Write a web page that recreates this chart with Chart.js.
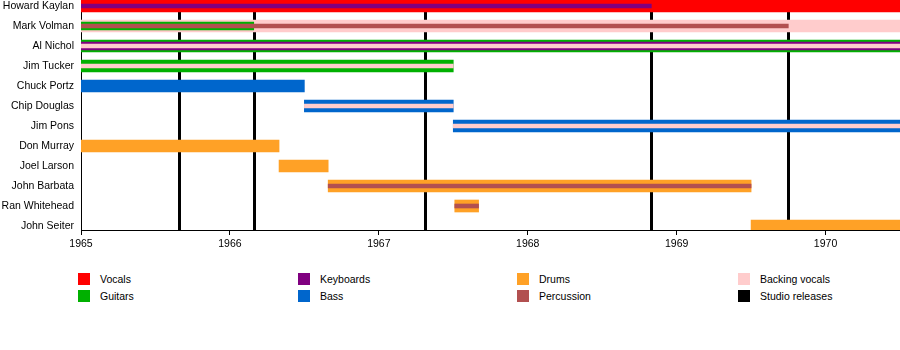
<!DOCTYPE html>
<html>
<head>
<meta charset="utf-8">
<title>The Turtles timeline</title>
<script src="https://cdn.jsdelivr.net/npm/chart.js@4/dist/chart.umd.min.js"></script>
<style>
  body { margin: 0; background: #fff; font-family: "Liberation Sans", Arial, sans-serif; }
  #wrap { position: relative; width: 900px; height: 350px; }
  #box { position: absolute; left: 0; top: 0; width: 900px; height: 255px; }
  .key { position: absolute; height: 12px; font-size: 10.5px; line-height: 12px; color: #000; white-space: nowrap; }
  .key span { position: absolute; left: 0; top: 0; width: 12px; height: 12px; }
  .key b { position: absolute; left: 22px; top: 0; font-weight: normal; }
</style>
</head>
<body>
<div id="wrap">
  <div id="box"><canvas id="timeline"></canvas></div>
  <div id="legend"></div>
</div>
<script>
const members = ['Howard Kaylan', 'Mark Volman', 'Al Nichol', 'Jim Tucker', 'Chuck Portz', 'Chip Douglas',
  'Jim Pons', 'Don Murray', 'Joel Larson', 'John Barbata', 'Ran Whitehead', 'John Seiter'];
const yearTicks = [1965, 1966, 1967, 1968, 1969, 1970];
const studioReleases = [1965.66, 1966.16, 1967.31, 1968.83, 1969.75];

// main role (full bar)
const vocals = [['Howard Kaylan', 1965, 1970.5]];
const backingVocals = [['Mark Volman', 1965, 1970.5]];
const guitars = [['Al Nichol', 1965, 1970.5], ['Jim Tucker', 1965, 1967.5]];
const bass = [['Chuck Portz', 1965, 1966.5], ['Chip Douglas', 1966.5, 1967.5], ['Jim Pons', 1967.5, 1970.5]];
const drums = [['Don Murray', 1965, 1966.33], ['Joel Larson', 1966.33, 1966.66], ['John Barbata', 1966.66, 1969.5],
  ['Ran Whitehead', 1967.51, 1967.67], ['John Seiter', 1969.5, 1970.5]];

// second role
const guitarsSecond = [['Mark Volman', 1965, 1966.16]];
const keyboardsSecond = [['Al Nichol', 1965, 1970.5]];

// third role
const keyboardsThird = [['Howard Kaylan', 1965, 1968.83]];
const percussionThird = [['Mark Volman', 1965, 1969.75], ['John Barbata', 1966.66, 1969.5], ['Ran Whitehead', 1967.51, 1967.67]];
const backingThird = [['Al Nichol', 1965, 1970.5], ['Jim Tucker', 1965, 1967.5], ['Chip Douglas', 1966.5, 1967.5],
  ['Jim Pons', 1967.5, 1970.5]];

const legendLabels = ['Vocals', 'Guitars', 'Keyboards', 'Bass', 'Drums', 'Percussion', 'Backing vocals', 'Studio releases'];

const colors = {
  vocals: '#ff0000',
  guitars: '#00b000',
  keyboards: '#800080',
  bass: '#0066cc',
  drums: '#ffa126',
  percussion: '#b25050',
  backing: '#ffcccc',
  releases: '#000000'
};
const legendColors = [colors.vocals, colors.guitars, colors.keyboards, colors.bass,
  colors.drums, colors.percussion, colors.backing, colors.releases];

const toPoints = list => list.map(([name, start, end]) => ({ x: [start, end], y: members.indexOf(name) }));

function layer(label, color, list, thickness, order) {
  return {
    label: label,
    data: toPoints(list),
    backgroundColor: color,
    barThickness: thickness,
    grouped: false,
    borderWidth: 0,
    order: order,
    clip: 0
  };
}

const releaseLines = {
  id: 'releaseLines',
  beforeDatasetsDraw(chart) {
    const { ctx, chartArea, scales } = chart;
    ctx.save();
    ctx.strokeStyle = colors.releases;
    ctx.lineWidth = 3;
    studioReleases.forEach(year => {
      const px = Math.round(scales.x.getPixelForValue(year)) + 0.5;
      ctx.beginPath();
      ctx.moveTo(px, chartArea.top);
      ctx.lineTo(px, chartArea.bottom);
      ctx.stroke();
    });
    ctx.restore();
  }
};

const font = { family: '"Liberation Sans", Arial, sans-serif', size: 10.5 };

new Chart(document.getElementById('timeline'), {
  type: 'bar',
  data: {
    datasets: [
      layer('Vocals', colors.vocals, vocals, 12, 3),
      layer('Backing vocals', colors.backing, backingVocals, 12, 3),
      layer('Guitars', colors.guitars, guitars, 12, 3),
      layer('Bass', colors.bass, bass, 12, 3),
      layer('Drums', colors.drums, drums, 12, 3),
      layer('Guitars', colors.guitars, guitarsSecond, 8, 2),
      layer('Keyboards', colors.keyboards, keyboardsSecond, 8, 2),
      layer('Keyboards', colors.keyboards, keyboardsThird, 4, 1),
      layer('Percussion', colors.percussion, percussionThird, 4, 1),
      layer('Backing vocals', colors.backing, backingThird, 4, 1)
    ]
  },
  options: {
    indexAxis: 'y',
    responsive: true,
    maintainAspectRatio: false,
    animation: false,
    layout: { padding: 0 },
    plugins: {
      legend: { display: false },
      tooltip: { enabled: false }
    },
    scales: {
      x: {
        type: 'linear',
        min: 1965,
        max: 1970.5,
        offset: false,
        afterBuildTicks: scale => { scale.ticks = yearTicks.map(v => ({ value: v })); },
        afterFit: scale => { scale.height = 25; scale.paddingLeft = 0; scale.paddingRight = 0; },
        ticks: { font: font, color: '#000', padding: 3, maxRotation: 0, autoSkip: false, callback: v => String(v) },
        grid: { display: true, drawOnChartArea: false, drawTicks: true, tickLength: 5, color: '#000', offset: false },
        border: { display: true, color: '#000', width: 1 }
      },
      y: {
        type: 'linear',
        reverse: true,
        offset: false,
        min: -0.3,
        max: 11.2,
        afterBuildTicks: scale => { scale.ticks = members.map((m, i) => ({ value: i })); },
        afterFit: scale => { scale.width = 81; scale.paddingTop = 0; scale.paddingBottom = 0; },
        ticks: { font: font, color: '#000', padding: 7, autoSkip: false, callback: v => members[v] },
        grid: { display: false, drawTicks: false, offset: false },
        border: { display: true, color: '#000', width: 1 }
      }
    }
  },
  plugins: [releaseLines]
});

// legend, four columns of two
const legendCols = [78, 298, 517, 738];
const legendRows = [273, 290];
const legend = document.getElementById('legend');
legendLabels.forEach((text, i) => {
  const item = document.createElement('div');
  item.className = 'key';
  item.style.left = legendCols[Math.floor(i / 2)] + 'px';
  item.style.top = legendRows[i % 2] + 'px';
  item.innerHTML = '<span style="background:' + legendColors[i] + '"></span><b>' + text + '</b>';
  legend.appendChild(item);
});
</script>
</body>
</html>
